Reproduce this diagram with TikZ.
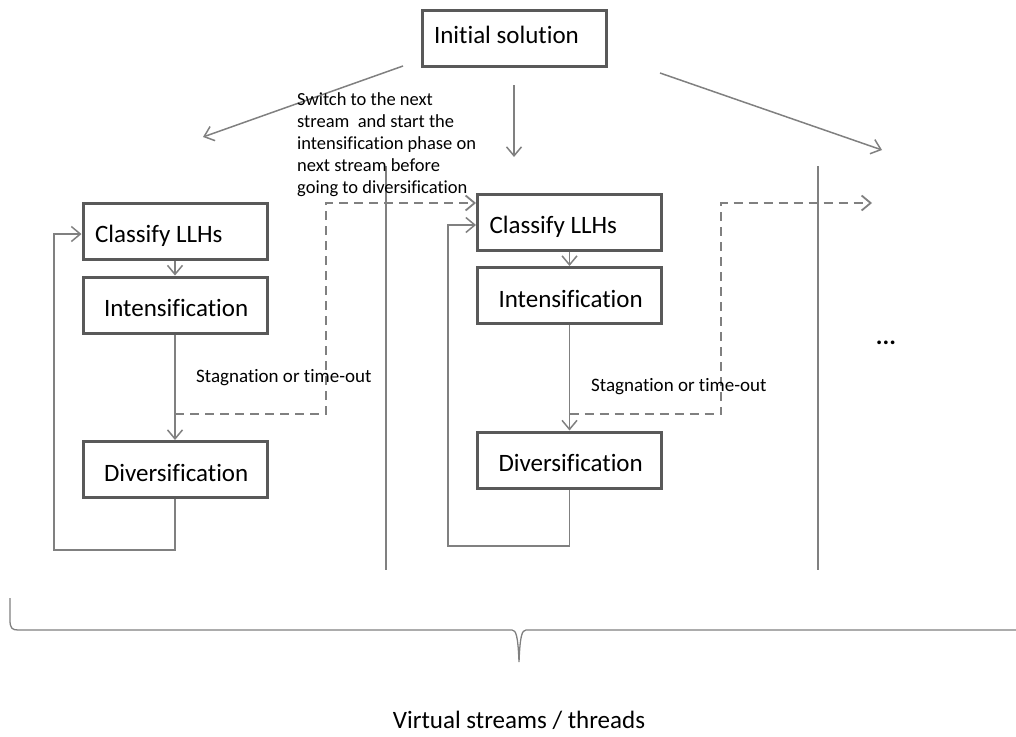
\documentclass[tikz,border=0pt]{standalone}
\usepackage{fontspec}
\setmainfont{Carlito}[Ligatures=NoCommon]
\usetikzlibrary{arrows.meta}
\definecolor{boxgray}{HTML}{595959}
\definecolor{linegray}{HTML}{808080}
\newcommand\padtxtA[1]{\makebox[160pt][l]{#1}}
\newcommand\padtxtB[1]{\makebox[142pt][l]{#1}}
\tikzset{
  boxnode/.style={draw=boxgray, line width=3pt, rectangle, minimum height=56pt,
     inner ysep=0pt, text height=27.5pt, text depth=4pt,
     font=\fontsize{25}{30}\selectfont},
  padA/.style={inner xsep=12pt},
  padB/.style={inner xsep=21pt},
  conn/.style={draw=linegray, line width=1.5pt},
  arr/.style={conn, -{Straight Barb[length=9pt,width=15pt,line width=1.5pt]}},
  dasharr/.style={draw=linegray, line width=2.5pt, dash pattern=on 9pt off 6pt,
     -{Straight Barb[length=9pt,width=15pt,line width=1.8pt]}},
  smalltext/.style={font=\fontsize{18.5}{22}\selectfont, inner sep=0pt, align=left},
}
\begin{document}
\begin{tikzpicture}[x=1pt,y=-1pt]
\useasboundingbox (0,0) rectangle (1016,736);

% boxes
\node[boxnode,padA,text height=15pt,text depth=4pt] (init) at (514,38) {\padtxtA{Initial solution}};
\node[boxnode,padA] (c1) at (175,231) {\padtxtA{Classify LLHs}};
\node[boxnode,padB] (i1) at (175,305) {\padtxtB{Intensification}};
\node[boxnode,padB] (d1) at (175,469.5) {\padtxtB{Diversification}};
\node[boxnode,padA] (c2) at (569.5,222) {\padtxtA{Classify LLHs}};
\node[boxnode,padB] (i2) at (569.5,295.5) {\padtxtB{Intensification}};
\node[boxnode,padB] (d2) at (569.5,460) {\padtxtB{Diversification}};

% top arrows
\coordinate (tl0) at (403,66);  \coordinate (tl1) at (203,137);
\coordinate (tm0) at (514,85);  \coordinate (tm1) at (514,157);
\coordinate (tr0) at (660,73);  \coordinate (tr1) at (882,150);
\draw[arr] (tl0) -- (tl1);
\draw[arr] (tm0) -- (tm1);
\draw[arr] (tr0) -- (tr1);

% vertical separators
\coordinate (v1a) at (386,166); \coordinate (v1b) at (386,570);
\coordinate (v2a) at (818,166); \coordinate (v2b) at (818,570);
\draw[conn] (v1a) -- (v1b);
\draw[conn] (v2a) -- (v2b);

% column 1
\draw[arr] (c1.south) -- (i1.north);
\draw[arr] (i1.south) -- (d1.north);
\draw[arr] (d1.south) |- (54,550) |- ([yshift=-3pt]c1.west);
\coordinate (s1) at (175,414);
\draw[dasharr] (s1) -| (326,203) -- ([yshift=19pt]c2.west);
\node[smalltext, anchor=west, font=\fontsize{19}{22}\selectfont] (stag1) at (196,378) {Stagnation or time-out};

% column 2
\draw[arr] (c2.south) -- (i2.north);
\draw[arr] (i2.south) -- (d2.north);
\draw[arr] (d2.south) |- (448,546) |- ([yshift=-3pt]c2.west);
\coordinate (s2) at (569.5,414);
\coordinate (e2) at (872,203);
\draw[dasharr] (s2) -| (721,203) -- (e2);
\node[smalltext, anchor=west, font=\fontsize{19}{22}\selectfont] (stag2) at (591,387) {Stagnation or time-out};

% switch text
\node[smalltext, anchor=north west] (sw) at (297,92)
  {Switch to the next\\stream\ \ and start the\\intensification phase on\\next stream before\\going to diversification};

% dots
\node[font=\fontsize{25}{30}\selectfont\bfseries, inner sep=0pt] (dots) at (886,343) {...};

% brace
\draw[conn, line width=1.3pt] (10,598) -- (10,620) .. controls (10,628) and (12,630) .. (18,630)
  -- (512,630) .. controls (516,630) and (518,636) .. (519,662)
  .. controls (520,636) and (522,630) .. (526,630) -- (1016,630);

\node[font=\fontsize{25}{30}\selectfont, inner sep=0pt] (title) at (519,720) {Virtual streams / threads};
\end{tikzpicture}
\end{document}
